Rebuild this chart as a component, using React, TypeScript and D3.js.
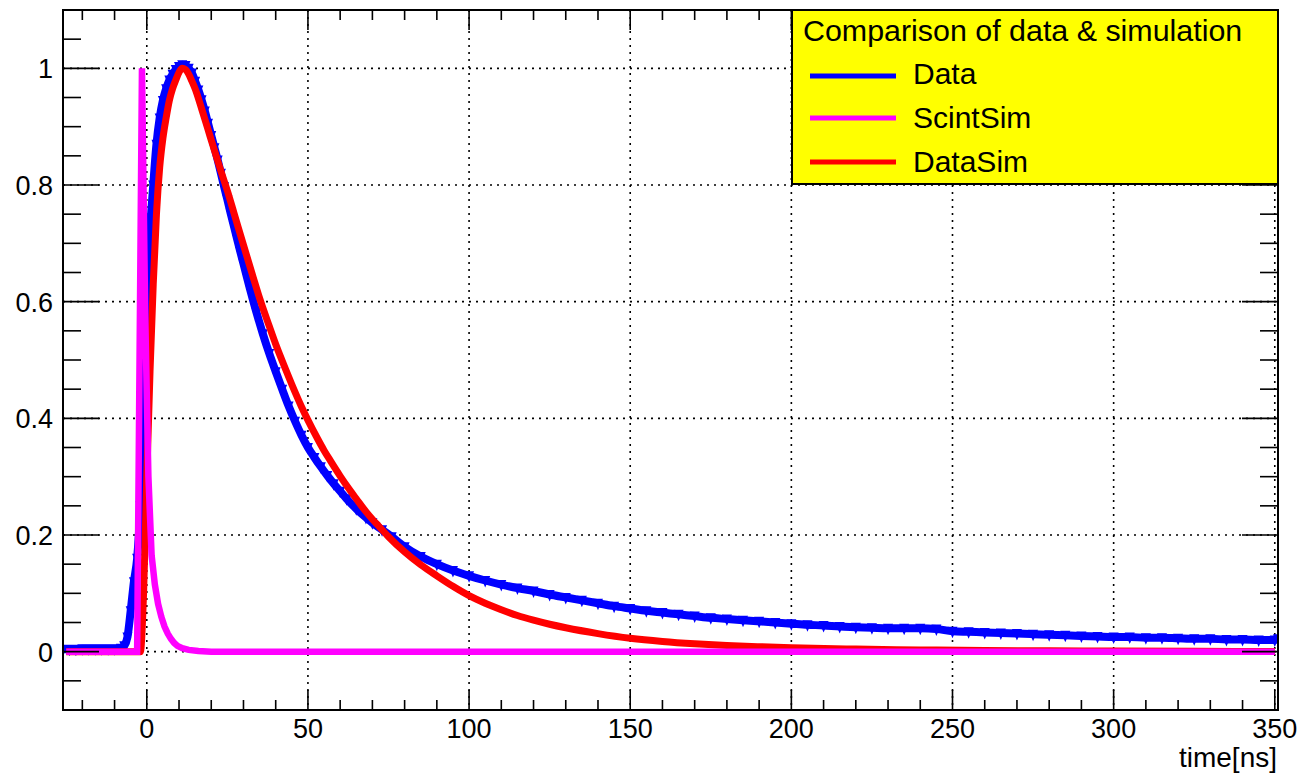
import React from "react";
import * as d3 from "d3";

// ---- Data ----
const DATA_T = [-26, -24, -22, -20, -18, -16, -14, -12, -10, -8, -7, -6, -5, -4, -3, -2, -1, 0, 1, 2, 3, 4, 5, 6, 7, 8, 9, 10, 11, 12, 13, 14, 15, 16, 17, 18, 19, 20, 21, 22, 23, 24, 25, 26, 27, 28, 29, 30, 32, 34, 36, 38, 40, 42, 44, 46, 48, 50, 52, 54, 56, 58, 60, 62, 65, 68, 70, 73, 76, 80, 85, 90, 95, 100, 105, 110, 115, 120, 125, 130, 135, 140, 145, 150, 155, 160, 165, 170, 175, 180, 185, 190, 195, 200, 205, 210, 215, 220, 225, 230, 235, 240, 245, 250, 255, 260, 265, 270, 275, 280, 285, 290, 295, 300, 305, 310, 315, 320, 325, 330, 335, 340, 345, 350, 351];
const DATA_V = [0.004, 0.004, 0.004, 0.005, 0.005, 0.005, 0.005, 0.005, 0.005, 0.006, 0.01, 0.025, 0.07, 0.12, 0.16, 0.25, 0.42, 0.6, 0.72, 0.8, 0.87, 0.915, 0.945, 0.965, 0.98, 0.99, 0.998, 1.003, 1.006, 1.005, 1.0, 0.992, 0.978, 0.963, 0.946, 0.927, 0.906, 0.885, 0.864, 0.843, 0.82, 0.797, 0.775, 0.752, 0.73, 0.708, 0.686, 0.665, 0.622, 0.582, 0.545, 0.511, 0.48, 0.45, 0.421, 0.395, 0.371, 0.35, 0.333, 0.317, 0.302, 0.288, 0.275, 0.262, 0.245, 0.23, 0.221, 0.209, 0.197, 0.18, 0.163, 0.15, 0.139, 0.13, 0.122, 0.115, 0.109, 0.104, 0.098, 0.093, 0.088, 0.083, 0.078, 0.074, 0.07, 0.067, 0.064, 0.061, 0.058, 0.056, 0.054, 0.052, 0.05, 0.048, 0.046, 0.045, 0.043, 0.042, 0.041, 0.04, 0.04, 0.04, 0.039, 0.035, 0.034, 0.033, 0.032, 0.031, 0.03, 0.029, 0.028, 0.027, 0.026, 0.025, 0.025, 0.024, 0.024, 0.023, 0.022, 0.022, 0.021, 0.021, 0.02, 0.02, 0.022];

const SCINT_T = [-25, -3, -1.5, -0.5, 0.5, 1.5, 2.5, 3.5, 4.5, 5.5, 6.5, 7.5, 8.5, 9.5, 11, 13, 16, 20, 350];
const SCINT_V = [0, 0, 1.0, 0.58, 0.3, 0.165, 0.115, 0.082, 0.06, 0.043, 0.031, 0.022, 0.015, 0.01, 0.006, 0.003, 0.001, 0, 0];

const SIM_T = [-25, -2, -1, 0, 1, 2, 3, 4, 5, 6, 7, 8, 9, 10, 11, 12, 13, 14, 15, 17, 19, 21, 23, 25, 27, 30, 33, 35, 38, 40, 43, 45, 48, 50, 53, 55, 57, 60, 63, 65, 68, 70, 72, 75, 80, 85, 90, 95, 100, 105, 110, 115, 120, 125, 130, 140, 150, 160, 170, 180, 190, 200, 220, 240, 260, 280, 300, 325, 350];
const SIM_V = [0, 0, 0.1, 0.3, 0.48, 0.63, 0.75, 0.83, 0.88, 0.915, 0.945, 0.965, 0.98, 0.993, 1.0, 0.998, 0.99, 0.978, 0.965, 0.931, 0.895, 0.859, 0.824, 0.79, 0.753, 0.697, 0.642, 0.606, 0.558, 0.527, 0.485, 0.458, 0.42, 0.397, 0.365, 0.345, 0.327, 0.301, 0.277, 0.262, 0.24, 0.227, 0.215, 0.197, 0.171, 0.149, 0.13, 0.112, 0.096, 0.083, 0.072, 0.062, 0.054, 0.047, 0.041, 0.031, 0.023, 0.0175, 0.0135, 0.0105, 0.0085, 0.0068, 0.0045, 0.003, 0.002, 0.0014, 0.001, 0.0006, 0.0004];

const X_MAJOR = [0, 50, 100, 150, 200, 250, 300, 350];
const X_LABELS = ["0", "50", "100", "150", "200", "250", "300", "350"];
const Y_MAJOR = [0, 0.2, 0.4, 0.6, 0.8, 1];
const Y_LABELS = ["0", "0.2", "0.4", "0.6", "0.8", "1"];
const X_TITLE = "time[ns]";
const LEGEND_TITLE = "Comparison of data & simulation";
const LEGEND_NAMES = ["Data", "ScintSim", "DataSim"];
const LEGEND_COLORS = ["#0000ff", "#ff00ff", "#ff0000"];

const FONT = "'Liberation Sans', Arial, Helvetica, sans-serif";

export default function App() {
  const W = 1300, H = 773;
  const L = 63, R = 1278, T = 10, B = 710;
  const x = d3.scaleLinear().domain([-26, 351]).range([L, R]);
  const y = d3.scaleLinear().domain([-0.1, 1.1]).range([B, T]);

  const xMinor = d3.range(-20, 351, 10).filter((v) => v % 50 !== 0);
  const yMinor = d3.range(-2, 23).map((i) => i * 0.05).filter((v) => Math.abs(Math.round(v * 5) - v * 5) > 1e-6);

  const smooth = d3.line<[number, number]>().x((d) => x(d[0])).y((d) => y(d[1])).curve(d3.curveMonotoneX);
  const straight = d3.line<[number, number]>().x((d) => x(d[0])).y((d) => y(d[1]));
  const dataPts: [number, number][] = DATA_T.map((t, i) => [t, DATA_V[i]]);
  const scintPts: [number, number][] = SCINT_T.map((t, i) => [t, SCINT_V[i]]);
  const simPts: [number, number][] = SIM_T.map((t, i) => [t, SIM_V[i]]);

  const triPath = dataPts
    .map(([t, v]) => {
      const px = x(t), py = y(v);
      return `M${px - 5},${py - 4.5}L${px + 5},${py - 4.5}L${px},${py + 7}Z`;
    })
    .join("");

  const legX = 792, legY = 10, legW = R - 792, legH = 174;
  const legLineY = [76, 118, 162];
  const legTextY = [84, 128, 172];

  return (
    <svg width={W} height={H} style={{ position: "absolute", left: 0, top: 0, background: "#fff" }} fontFamily={FONT}>
      <rect x={0} y={0} width={W} height={H} fill="#fff" />
      <defs>
        <clipPath id="plot">
          <rect x={L} y={T} width={R - L} height={B - T} />
        </clipPath>
      </defs>
      {/* grid */}
      <g stroke="#000" strokeWidth={1.6} strokeDasharray="2 5">
        {X_MAJOR.map((v) => (
          <line key={"gx" + v} x1={x(v)} x2={x(v)} y1={T} y2={B} />
        ))}
        {Y_MAJOR.map((v) => (
          <line key={"gy" + v} x1={L} x2={R} y1={y(v)} y2={y(v)} />
        ))}
      </g>
      {/* series */}
      <g clipPath="url(#plot)">
        <path d={smooth(dataPts) || ""} fill="none" stroke="#0000ff" strokeWidth={8} strokeLinejoin="round" />
        <path d={triPath} fill="#0000ff" />
        <path d={smooth(simPts) || ""} fill="none" stroke="#ff0000" strokeWidth={7} strokeLinejoin="round" />
        <path d={straight(scintPts) || ""} fill="none" stroke="#ff00ff" strokeWidth={6.5} strokeLinejoin="miter" />
      </g>
      {/* ticks */}
      <g stroke="#000" strokeWidth={1.6}>
        {X_MAJOR.map((v) => (
          <g key={"xt" + v}>
            <line x1={x(v)} x2={x(v)} y1={B} y2={B - 20} />
            <line x1={x(v)} x2={x(v)} y1={T} y2={T + 20} />
          </g>
        ))}
        {xMinor.map((v) => (
          <g key={"xm" + v}>
            <line x1={x(v)} x2={x(v)} y1={B} y2={B - 10} />
            <line x1={x(v)} x2={x(v)} y1={T} y2={T + 10} />
          </g>
        ))}
        {Y_MAJOR.map((v) => (
          <g key={"yt" + v}>
            <line x1={L} x2={L + 36} y1={y(v)} y2={y(v)} />
            <line x1={R} x2={R - 36} y1={y(v)} y2={y(v)} />
          </g>
        ))}
        {yMinor.map((v) => (
          <g key={"ym" + v}>
            <line x1={L} x2={L + 18} y1={y(v)} y2={y(v)} />
            <line x1={R} x2={R - 18} y1={y(v)} y2={y(v)} />
          </g>
        ))}
      </g>
      <rect x={L} y={T} width={R - L} height={B - T} fill="none" stroke="#000" strokeWidth={2} />
      {/* tick labels */}
      <g fontSize={27} fill="#000">
        {X_MAJOR.map((v, i) => (
          <text key={"xl" + v} x={x(v)} y={738} textAnchor="middle">
            {X_LABELS[i]}
          </text>
        ))}
        {Y_MAJOR.map((v, i) => (
          <text key={"yl" + v} x={53} y={y(v) + 10} textAnchor="end">
            {Y_LABELS[i]}
          </text>
        ))}
      </g>
      <text x={1277} y={767} fontSize={28} textAnchor="end" fill="#000">
        {X_TITLE}
      </text>
      {/* legend */}
      <rect x={legX} y={legY} width={legW} height={legH} fill="#ffff00" stroke="#000" strokeWidth={2} />
      <text x={803} y={41} fontSize={30.4} fill="#000">
        {LEGEND_TITLE}
      </text>
      {LEGEND_NAMES.map((n, i) => (
        <g key={n}>
          <line x1={810} x2={896} y1={legLineY[i]} y2={legLineY[i]} stroke={LEGEND_COLORS[i]} strokeWidth={5} />
          <text x={913} y={legTextY[i]} fontSize={30} fill="#000">
            {n}
          </text>
        </g>
      ))}
    </svg>
  );
}
